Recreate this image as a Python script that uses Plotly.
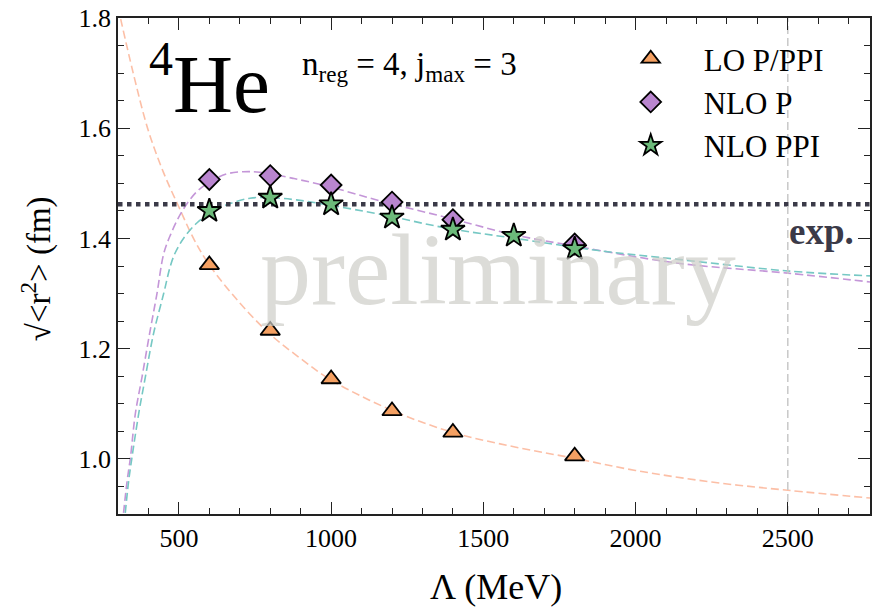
import plotly.graph_objects as go

# ---- data ----
lam_lo = [600, 800, 1000, 1200, 1400, 1800]
r_lo = [1.352, 1.233, 1.145, 1.087, 1.048, 1.005]

lam_nlo_p = [600, 800, 1000, 1200, 1400, 1800]
r_nlo_p = [1.507, 1.514, 1.497, 1.466, 1.434, 1.390]

lam_nlo_ppi = [600, 800, 1000, 1200, 1400, 1600, 1800]
r_nlo_ppi = [1.450, 1.474, 1.462, 1.438, 1.416, 1.405, 1.381]

# fitted curves
fit_lo_lam = [300, 350, 400, 450, 500, 550, 600, 700, 800, 900, 1000, 1200, 1400,
              1600, 1800, 2000, 2250, 2500, 2770]
fit_lo_r = [1.82, 1.70, 1.595, 1.519, 1.457, 1.398, 1.352, 1.283, 1.226, 1.182, 1.143,
            1.088, 1.048, 1.022, 1.001, 0.979, 0.958, 0.943, 0.929]

fit_p_lam = [314, 330, 341, 357, 379, 404, 428, 450, 472, 510, 559, 603, 657, 711, 766,
             875, 1000, 1169, 1387, 1606, 1813, 2140, 2500, 2770]
fit_p_r = [0.88, 0.96, 1.003, 1.082, 1.149, 1.228, 1.300, 1.372, 1.406, 1.449, 1.485,
           1.503, 1.517, 1.521, 1.520, 1.509, 1.493, 1.467, 1.437, 1.406, 1.385, 1.355,
           1.337, 1.321]

fit_ppi_lam = [320, 335, 346, 368, 390, 417, 450, 472, 488, 515, 559, 603, 657, 733, 799,
               886, 1000, 1169, 1387, 1606, 1878, 2140, 2500, 2770]
fit_ppi_r = [0.88, 0.96, 1.003, 1.082, 1.149, 1.228, 1.300, 1.350, 1.374, 1.400, 1.428,
             1.446, 1.461, 1.473, 1.474, 1.470, 1.460, 1.443, 1.418, 1.400, 1.378, 1.362,
             1.341, 1.332]

exp_value = 1.462
lam_cut = 2500
x_range = [300, 2770]
y_range = [0.9, 1.8]

FONT = "Liberation Serif, Times New Roman, DejaVu Serif, serif"
W, H = 873, 609
ML, MR, MT, MB = 118, 1, 18, 95
PW, PH = W - ML - MR, H - MT - MB


def px(x):
    return (x - ML) / PW


def py(y):
    return (H - MB - y) / PH


fig = go.Figure()

# fit curves
fig.add_trace(go.Scatter(x=fit_lo_lam, y=fit_lo_r, mode="lines", showlegend=False,
                         line=dict(color="rgba(252,180,150,0.85)", width=1.6, dash="8px,4px",
                                   shape="spline")))
fig.add_trace(go.Scatter(x=fit_p_lam, y=fit_p_r, mode="lines", showlegend=False,
                         line=dict(color="rgba(196,150,216,1)", width=1.6, dash="8px,4px",
                                   shape="spline")))
fig.add_trace(go.Scatter(x=fit_ppi_lam, y=fit_ppi_r, mode="lines", showlegend=False,
                         line=dict(color="rgba(118,200,196,1)", width=1.6, dash="8px,4px",
                                   shape="spline")))

# experimental line
fig.add_trace(go.Scatter(x=x_range, y=[exp_value, exp_value], mode="lines", showlegend=False,
                         line=dict(color="#3b3a48", width=4.5, dash="dot")))
# cutoff line
fig.add_trace(go.Scatter(x=[lam_cut, lam_cut], y=y_range, mode="lines", showlegend=False,
                         line=dict(color="#c8c8c8", width=1.5, dash="8px,4px")))

# data points
fig.add_trace(go.Scatter(x=lam_lo, y=r_lo, mode="markers", name="LO P/PPI",
                         marker=dict(symbol="triangle-up", size=17, color="#f4a062",
                                     line=dict(color="black", width=1.8))))
fig.add_trace(go.Scatter(x=lam_nlo_p, y=r_nlo_p, mode="markers", name="NLO P",
                         marker=dict(symbol="diamond", size=16, color="#b985cf",
                                     line=dict(color="black", width=1.8))))
fig.add_trace(go.Scatter(x=lam_nlo_ppi, y=r_nlo_ppi, mode="markers", name="NLO PPI",
                         marker=dict(symbol="star", size=18, color="#6cba7a",
                                     line=dict(color="black", width=1.8))))

ax_common = dict(showline=True, linecolor="#222222", linewidth=1.5, mirror="ticks",
                 ticks="inside", ticklen=12, tickwidth=1.3, tickcolor="#222222",
                 showgrid=False, zeroline=False,
                 tickfont=dict(family=FONT, size=26, color="black"))

fig.update_xaxes(range=x_range, tickvals=[500, 1000, 1500, 2000, 2500],
                 minor=dict(ticks="inside", ticklen=6, dtick=100, tick0=0, tickwidth=1.1,
                            tickcolor="#222222", showgrid=False),
                 **ax_common)
fig.update_yaxes(range=y_range, tickvals=[1.0, 1.2, 1.4, 1.6, 1.8], tickformat=".1f",
                 minor=dict(ticks="inside", ticklen=6, dtick=0.05, tick0=0, tickwidth=1.1,
                            tickcolor="#222222", showgrid=False),
                 **ax_common)

ann = [
    dict(text="preliminary", x=px(499), y=py(269), font=dict(size=102, color="rgba(205,205,200,0.7)")),
    dict(text="He", x=px(171), y=py(84), xanchor="left", font=dict(size=83, color="black")),
    dict(text="4", x=px(147), y=py(59), xanchor="left", font=dict(size=48, color="black")),
    dict(text="n<sub>reg</sub> = 4, j<sub>max</sub> = 3", x=px(300), y=py(67), xanchor="left",
         font=dict(size=33, color="black")),
    dict(text="<b>exp.</b>", x=px(858), y=py(232), xanchor="right",
         font=dict(size=37, color="#3b3a48")),
    dict(text="Λ (MeV)", x=px(497), y=py(587), font=dict(size=36, color="black")),
    dict(text="√<r<sup>2</sup>> (fm)", x=px(36), y=py(269), textangle=-90,
         font=dict(size=33, color="black")),
]
for a in ann:
    a.setdefault("xanchor", "center")
    a.update(xref="paper", yref="paper", yanchor="middle", showarrow=False)
    a["font"]["family"] = FONT
fig.update_layout(annotations=ann)

fig.update_layout(
    width=W, height=H,
    margin=dict(l=ML, r=MR, t=MT, b=MB),
    plot_bgcolor="white", paper_bgcolor="white",
    font=dict(family=FONT, color="black"),
    legend=dict(x=px(599), y=py(32), xanchor="left", yanchor="top",
                font=dict(family=FONT, size=31, color="black"),
                bgcolor="rgba(0,0,0,0)", itemwidth=96, tracegroupgap=0),
)

fig.write_html("out.html", config={"displayModeBar": False},
               post_script="document.body.style.margin='0';document.body.style.padding='0';")
